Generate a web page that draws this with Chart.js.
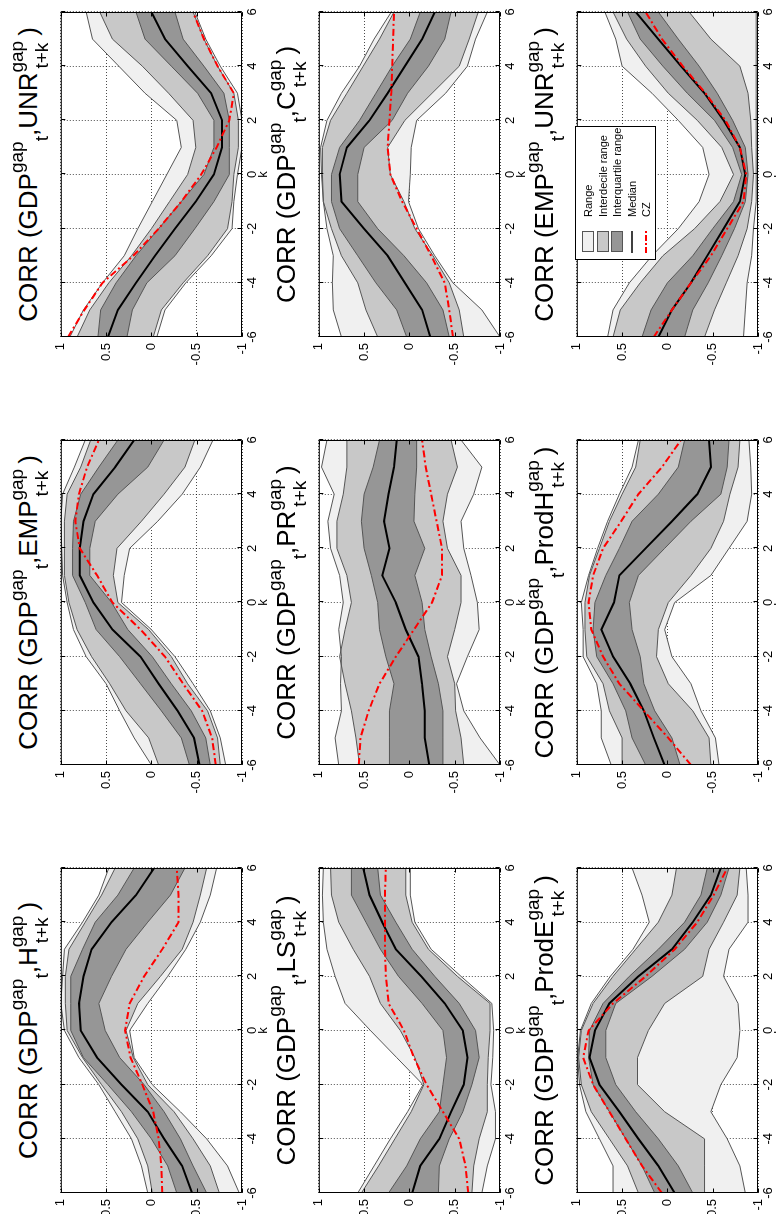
<!DOCTYPE html>
<html>
<head>
<meta charset="utf-8">
<script src="https://cdn.jsdelivr.net/npm/chart.js@4.4.1/dist/chart.umd.min.js"></script>
<style>
html, body { margin: 0; padding: 0; background: #fff; overflow: hidden; width: 776px; height: 1214px; }
#fig {
  position: absolute; left: 0; top: 0; width: 1214px; height: 776px;
  transform-origin: 0 0; transform: translateY(1214px) rotate(-90deg);
  font-family: "Liberation Sans", Arial, sans-serif; background: #fff; color: #000;
}
#fig canvas { position: absolute; }
.ttl { position: absolute; white-space: nowrap; font-size: 26px; line-height: 26px; text-align: center; }
.sp { font-size: 19px; position: relative; top: -14px; }
.sb { font-size: 19px; position: relative; top: 11px; }
.ss { position: relative; display: inline-block; font-size: 19px; line-height: 19px; padding-right: 5px; }
.ss .up { position: relative; top: -14px; }
.ss .dn { position: absolute; left: 4px; top: 11px; }
#legend { position: absolute; border: 1px solid #000; background: #fff; font-size: 11px; }
#legend .row { position: absolute; left: 0; height: 14px; width: 100%; }
#legend .sw { position: absolute; left: 7px; top: 1px; width: 19px; height: 10px; border: 1px solid #555; }
#legend svg { position: absolute; left: 6px; top: 4px; }
#legend .lb { position: absolute; left: 42px; top: 0; line-height: 14px; white-space: nowrap; }
</style>
</head>
<body>
<div id="fig"></div>
<script>
// lags k
const lags = [-6, -5, -4, -3, -2, -1, 0, 1, 2, 3, 4, 5, 6];

// CORR(GDP, H)
const H_max = [0.04, 0.11, 0.22, 0.40, 0.58, 0.80, 0.96, 1.00, 0.98, 0.96, 0.76, 0.58, 0.47];
const H_p90 = [-0.01, 0.04, 0.15, 0.33, 0.55, 0.76, 0.93, 0.95, 0.95, 0.91, 0.73, 0.55, 0.40];
const H_p75 = [-0.28, -0.18, 0.00, 0.22, 0.48, 0.75, 0.89, 0.89, 0.89, 0.76, 0.62, 0.37, 0.19];
const H_med = [-0.45, -0.34, -0.14, 0.04, 0.33, 0.60, 0.78, 0.80, 0.75, 0.66, 0.44, 0.17, -0.03];
const H_p25 = [-0.61, -0.46, -0.32, -0.14, 0.08, 0.35, 0.51, 0.58, 0.44, 0.28, 0.04, -0.21, -0.37];
const H_p10 = [-0.75, -0.65, -0.46, -0.25, 0.04, 0.20, 0.28, 0.15, -0.10, -0.34, -0.46, -0.54, -0.61];
const H_min = [-0.97, -0.84, -0.61, -0.32, -0.01, 0.19, 0.24, 0.04, -0.18, -0.38, -0.54, -0.65, -0.72];
const H_cz = [-0.12, -0.11, -0.08, -0.02, 0.10, 0.23, 0.29, 0.24, 0.08, -0.12, -0.30, -0.30, -0.28];

// CORR(GDP, EMP)
const EMP_max = [0.00, 0.19, 0.35, 0.50, 0.72, 0.86, 0.93, 0.98, 0.99, 1.00, 0.98, 0.85, 0.73];
const EMP_p90 = [-0.08, 0.03, 0.28, 0.46, 0.66, 0.82, 0.91, 0.96, 0.96, 0.96, 0.93, 0.78, 0.67];
const EMP_p75 = [-0.42, -0.33, -0.11, 0.12, 0.35, 0.61, 0.73, 0.87, 0.87, 0.86, 0.78, 0.58, 0.37];
const EMP_med = [-0.53, -0.47, -0.29, -0.08, 0.12, 0.43, 0.64, 0.79, 0.79, 0.75, 0.64, 0.40, 0.19];
const EMP_p25 = [-0.65, -0.60, -0.44, -0.22, -0.01, 0.26, 0.44, 0.68, 0.68, 0.62, 0.37, 0.04, -0.14];
const EMP_p10 = [-0.76, -0.73, -0.62, -0.40, -0.22, 0.03, 0.37, 0.42, 0.38, 0.11, -0.14, -0.37, -0.48];
const EMP_min = [-0.82, -0.76, -0.65, -0.46, -0.26, 0.00, 0.33, 0.30, 0.24, -0.07, -0.34, -0.54, -0.68];
const EMP_cz = [-0.71, -0.67, -0.56, -0.35, -0.15, 0.12, 0.43, 0.60, 0.79, 0.84, 0.80, 0.71, 0.58];

// CORR(GDP, UNR)
const UNR_max = [0.90, 0.75, 0.54, 0.30, 0.15, -0.01, -0.17, -0.33, -0.28, 0.07, 0.36, 0.65, 0.72];
const UNR_p90 = [0.82, 0.68, 0.47, 0.22, 0.00, -0.20, -0.40, -0.49, -0.46, -0.19, 0.10, 0.43, 0.57];
const UNR_p75 = [0.59, 0.56, 0.39, 0.17, -0.08, -0.33, -0.58, -0.69, -0.69, -0.51, -0.22, 0.07, 0.17];
const UNR_med = [0.48, 0.37, 0.17, -0.04, -0.26, -0.49, -0.69, -0.78, -0.78, -0.66, -0.40, -0.15, 0.00];
const UNR_p25 = [0.27, 0.21, 0.05, -0.26, -0.48, -0.69, -0.86, -0.86, -0.86, -0.80, -0.58, -0.35, -0.26];
const UNR_p10 = [-0.02, -0.11, -0.35, -0.62, -0.84, -0.89, -0.91, -0.96, -0.96, -0.91, -0.73, -0.58, -0.46];
const UNR_min = [-0.06, -0.15, -0.38, -0.66, -0.89, -0.91, -0.95, -1.00, -1.00, -0.95, -0.76, -0.60, -0.48];
const UNR_cz = [0.92, 0.74, 0.54, 0.20, -0.08, -0.33, -0.55, -0.72, -0.86, -0.91, -0.73, -0.58, -0.46];

// CORR(GDP, LS)
const LS_max = [0.57, 0.39, 0.21, 0.02, -0.15, 0.14, 0.43, 0.71, 0.82, 0.91, 0.95, 0.96, 0.95];
const LS_p90 = [0.53, 0.34, 0.16, -0.02, -0.16, -0.06, 0.10, 0.32, 0.44, 0.62, 0.78, 0.86, 0.87];
const LS_p75 = [0.23, 0.03, -0.12, -0.33, -0.37, -0.41, -0.37, -0.14, 0.12, 0.32, 0.48, 0.64, 0.64];
const LS_med = [-0.03, -0.12, -0.33, -0.46, -0.60, -0.64, -0.59, -0.39, -0.13, 0.15, 0.30, 0.44, 0.51];
const LS_p25 = [-0.32, -0.33, -0.44, -0.59, -0.69, -0.77, -0.73, -0.55, -0.28, -0.03, 0.15, 0.32, 0.35];
const LS_p10 = [-0.69, -0.71, -0.77, -0.86, -0.86, -0.87, -0.89, -0.89, -0.53, -0.21, -0.03, 0.04, 0.04];
const LS_min = [-0.80, -0.86, -0.95, -0.95, -0.90, -0.92, -0.93, -0.91, -0.57, -0.24, -0.06, -0.01, -0.01];
const LS_cz = [-0.65, -0.62, -0.55, -0.37, -0.19, -0.05, 0.06, 0.23, 0.26, 0.27, 0.27, 0.27, 0.26];

// CORR(GDP, PR)
const PR_max = [0.78, 0.82, 0.75, 0.76, 0.75, 0.78, 0.73, 0.77, 0.87, 0.90, 0.83, 0.97, 0.91];
const PR_p90 = [0.55, 0.59, 0.64, 0.71, 0.77, 0.71, 0.64, 0.69, 0.80, 0.80, 0.73, 0.69, 0.69];
const PR_p75 = [0.22, 0.22, 0.22, 0.17, 0.26, 0.33, 0.35, 0.42, 0.50, 0.53, 0.50, 0.40, 0.33];
const PR_med = [-0.22, -0.17, -0.17, -0.14, -0.10, 0.04, 0.15, 0.30, 0.22, 0.28, 0.23, 0.17, 0.14];
const PR_p25 = [-0.37, -0.37, -0.37, -0.32, -0.24, -0.17, -0.14, -0.06, -0.17, -0.05, -0.06, -0.08, -0.08];
const PR_p10 = [-0.60, -0.57, -0.51, -0.50, -0.42, -0.50, -0.57, -0.57, -0.42, -0.37, -0.42, -0.53, -0.46];
const PR_min = [-1.00, -0.78, -0.60, -0.52, -0.64, -0.77, -0.75, -0.68, -0.60, -0.57, -0.71, -0.80, -0.57];
const PR_cz = [0.56, 0.54, 0.45, 0.33, 0.15, -0.05, -0.25, -0.36, -0.36, -0.30, -0.24, -0.18, -0.14];

// CORR(GDP, C)
const C_max = [0.75, 0.84, 0.85, 0.84, 0.91, 0.95, 0.97, 0.98, 0.91, 0.75, 0.55, 0.39, 0.20];
const C_p90 = [0.35, 0.48, 0.57, 0.75, 0.86, 0.95, 0.96, 0.96, 0.87, 0.69, 0.51, 0.33, 0.17];
const C_p75 = [0.03, 0.14, 0.37, 0.57, 0.77, 0.86, 0.86, 0.77, 0.55, 0.37, 0.19, -0.01, -0.12];
const C_med = [-0.23, -0.14, 0.05, 0.24, 0.50, 0.75, 0.77, 0.69, 0.44, 0.24, 0.05, -0.14, -0.28];
const C_p25 = [-0.44, -0.37, -0.19, 0.06, 0.35, 0.57, 0.57, 0.50, 0.19, 0.02, -0.21, -0.39, -0.46];
const C_p10 = [-0.60, -0.55, -0.44, -0.26, -0.06, 0.06, 0.21, 0.24, 0.05, -0.25, -0.55, -0.66, -0.76];
const C_min = [-1.00, -0.80, -0.48, -0.28, -0.10, 0.01, -0.01, -0.02, -0.08, -0.40, -0.64, -0.73, -0.86];
const C_cz = [-0.48, -0.44, -0.39, -0.24, -0.08, 0.08, 0.21, 0.24, 0.22, 0.20, 0.19, 0.18, 0.17];

// CORR(GDP, ProdE)
const PE_max = [0.60, 0.60, 0.75, 0.90, 0.97, 0.99, 0.96, 0.84, 0.63, 0.38, 0.20, 0.28, 0.39];
const PE_p90 = [0.32, 0.44, 0.64, 0.84, 0.95, 0.98, 0.95, 0.82, 0.60, 0.35, 0.10, -0.05, -0.10];
const PE_p75 = [0.14, 0.28, 0.46, 0.64, 0.82, 0.87, 0.86, 0.71, 0.42, 0.10, -0.19, -0.37, -0.44];
const PE_med = [-0.08, 0.10, 0.32, 0.53, 0.75, 0.86, 0.80, 0.64, 0.32, -0.05, -0.28, -0.48, -0.59];
const PE_p25 = [-0.28, -0.12, 0.10, 0.35, 0.57, 0.68, 0.68, 0.57, 0.17, -0.19, -0.44, -0.59, -0.68];
const PE_p10 = [-0.41, -0.41, -0.41, 0.03, 0.33, 0.33, 0.21, 0.03, -0.39, -0.46, -0.62, -0.77, -0.80];
const PE_min = [-0.86, -0.80, -0.66, -0.48, -0.59, -0.77, -0.80, -0.78, -0.62, -0.68, -0.89, -0.89, -0.87];
const PE_cz = [0.06, 0.28, 0.46, 0.64, 0.82, 0.93, 0.87, 0.60, 0.24, -0.08, -0.33, -0.51, -0.66];

// CORR(GDP, ProdH)
const PH_max = [0.62, 0.73, 0.73, 0.78, 0.93, 0.93, 0.95, 0.87, 0.77, 0.66, 0.53, 0.39, 0.32];
const PH_p90 = [0.50, 0.50, 0.64, 0.71, 0.89, 0.91, 0.91, 0.86, 0.75, 0.64, 0.50, 0.35, 0.30];
const PH_p75 = [0.24, 0.39, 0.46, 0.60, 0.78, 0.82, 0.80, 0.68, 0.53, 0.39, 0.10, -0.12, -0.19];
const PH_med = [0.03, 0.15, 0.26, 0.41, 0.60, 0.73, 0.59, 0.53, 0.24, -0.05, -0.33, -0.48, -0.46];
const PH_p25 = [-0.14, -0.05, 0.14, 0.26, 0.30, 0.39, 0.42, 0.32, 0.03, -0.26, -0.59, -0.66, -0.68];
const PH_p10 = [-0.48, -0.46, -0.28, -0.01, 0.12, 0.10, -0.01, -0.26, -0.48, -0.62, -0.69, -0.78, -0.80];
const PH_min = [-0.57, -0.53, -0.37, -0.26, -0.05, 0.03, -0.08, -0.48, -0.68, -0.88, -0.93, -0.92, -0.90];
const PH_cz = [-0.26, -0.01, 0.26, 0.53, 0.71, 0.84, 0.87, 0.82, 0.71, 0.51, 0.32, 0.06, -0.15];

// CORR(EMP, UNR)
const EU_max = [0.66, 0.60, 0.42, 0.17, -0.12, -0.35, -0.46, -0.39, -0.12, 0.17, 0.50, 0.57, 0.69];
const EU_p90 = [0.60, 0.52, 0.30, 0.05, -0.30, -0.58, -0.73, -0.60, -0.33, -0.01, 0.24, 0.45, 0.60];
const EU_p75 = [0.28, 0.18, 0.00, -0.28, -0.50, -0.73, -0.82, -0.72, -0.52, -0.22, 0.05, 0.30, 0.44];
const EU_med = [0.10, -0.05, -0.26, -0.44, -0.62, -0.80, -0.86, -0.80, -0.62, -0.41, -0.15, 0.10, 0.35];
const EU_p25 = [-0.19, -0.28, -0.45, -0.60, -0.74, -0.86, -0.89, -0.86, -0.72, -0.55, -0.35, -0.12, 0.10];
const EU_p10 = [-0.41, -0.52, -0.65, -0.78, -0.88, -0.93, -0.95, -0.93, -0.92, -0.89, -0.80, -0.48, -0.24];
const EU_min = [-0.84, -0.86, -0.88, -0.93, -0.95, -0.98, -0.98, -0.98, -0.98, -0.98, -0.98, -0.98, -0.98];
const EU_cz = [0.15, -0.05, -0.26, -0.48, -0.66, -0.84, -0.87, -0.80, -0.64, -0.42, -0.17, 0.06, 0.24];

const legendLabels = ['Range', 'Interdecile range', 'Interquartile range', 'Median', 'CZ'];

// Cores das faixas
const RANGE_COL = '#f0f0f0', DECILE_COL = '#c8c8c8', QUART_COL = '#969696';
const EDGE_COL = '#555555';
const FONT = "'Liberation Sans', Arial, sans-serif";

// Posicoes dos eixos (figura nao rodada)
const colLeft = [21, 449, 877];
const rowTop = [57, 315, 573];
const BOX_W = 325, BOX_H = 185;

const panels = [
  { row: 0, col: 0, a: 'GDP', b: 'H', s: [H_max, H_p90, H_p75, H_med, H_p25, H_p10, H_min, H_cz] },
  { row: 0, col: 1, a: 'GDP', b: 'EMP', s: [EMP_max, EMP_p90, EMP_p75, EMP_med, EMP_p25, EMP_p10, EMP_min, EMP_cz] },
  { row: 0, col: 2, a: 'GDP', b: 'UNR', s: [UNR_max, UNR_p90, UNR_p75, UNR_med, UNR_p25, UNR_p10, UNR_min, UNR_cz] },
  { row: 1, col: 0, a: 'GDP', b: 'LS', s: [LS_max, LS_p90, LS_p75, LS_med, LS_p25, LS_p10, LS_min, LS_cz] },
  { row: 1, col: 1, a: 'GDP', b: 'PR', s: [PR_max, PR_p90, PR_p75, PR_med, PR_p25, PR_p10, PR_min, PR_cz] },
  { row: 1, col: 2, a: 'GDP', b: 'C', s: [C_max, C_p90, C_p75, C_med, C_p25, C_p10, C_min, C_cz] },
  { row: 2, col: 0, a: 'GDP', b: 'ProdE', s: [PE_max, PE_p90, PE_p75, PE_med, PE_p25, PE_p10, PE_min, PE_cz] },
  { row: 2, col: 1, a: 'GDP', b: 'ProdH', s: [PH_max, PH_p90, PH_p75, PH_med, PH_p25, PH_p10, PH_min, PH_cz] },
  { row: 2, col: 2, a: 'EMP', b: 'UNR', s: [EU_max, EU_p90, EU_p75, EU_med, EU_p25, EU_p10, EU_min, EU_cz], legend: true }
];

// caixa e ticks para dentro, como no MATLAB
const boxPlugin = {
  id: 'matlabBox',
  afterDatasetsDraw(chart) {
    const { ctx, chartArea: a, scales: { x, y } } = chart;
    const L = a.left + 0.5, R = a.right - 0.5, T = a.top + 0.5, B = a.bottom - 0.5;
    ctx.save();
    ctx.strokeStyle = '#000';
    ctx.lineWidth = 1;
    ctx.setLineDash([]);
    ctx.beginPath();
    x.ticks.forEach(t => {
      const p = Math.round(x.getPixelForValue(t.value)) + 0.5;
      ctx.moveTo(p, B); ctx.lineTo(p, B - 4);
      ctx.moveTo(p, T); ctx.lineTo(p, T + 4);
    });
    y.ticks.forEach(t => {
      const p = Math.round(y.getPixelForValue(t.value)) + 0.5;
      ctx.moveTo(L, p); ctx.lineTo(L + 4, p);
      ctx.moveTo(R, p); ctx.lineTo(R - 4, p);
    });
    ctx.rect(L, T, R - L, B - T);
    ctx.stroke();
    ctx.restore();
  }
};

function pts(arr) {
  return lags.map((k, i) => ({ x: k, y: arr[i] }));
}

function edge(arr, fill, bg, order) {
  return {
    data: pts(arr), borderColor: EDGE_COL, borderWidth: 1, pointRadius: 0,
    tension: 0, fill: fill, backgroundColor: bg, order: order
  };
}

function makeChart(canvas, s) {
  const grid = { color: 'rgba(0,0,0,0.7)', lineWidth: 1, drawTicks: false };
  const tickFont = { family: FONT, size: 13 };
  return new Chart(canvas, {
    type: 'line',
    data: {
      datasets: [
        edge(s[0], '+1', RANGE_COL, 4),
        edge(s[6], false, RANGE_COL, 4),
        edge(s[1], '+1', DECILE_COL, 3),
        edge(s[5], false, DECILE_COL, 3),
        edge(s[2], '+1', QUART_COL, 2),
        edge(s[4], false, QUART_COL, 2),
        { data: pts(s[3]), borderColor: '#000', borderWidth: 2, pointRadius: 0, fill: false, order: 1 },
        { data: pts(s[7]), borderColor: '#ff0000', borderWidth: 2, borderDash: [7, 3, 2, 3], pointRadius: 0, fill: false, order: 0 }
      ]
    },
    options: {
      responsive: false,
      animation: false,
      devicePixelRatio: 1,
      events: [],
      layout: { padding: { left: 0, top: 10, right: 8, bottom: 0 } },
      plugins: {
        legend: { display: false },
        tooltip: { enabled: false },
        filler: { drawTime: 'beforeDatasetsDraw' }
      },
      scales: {
        x: {
          type: 'linear', min: -6, max: 6,
          afterFit: sc => { sc.height = 34; },
          ticks: { stepSize: 2, padding: 3, color: '#000', font: tickFont, maxRotation: 0, callback: v => String(v) },
          grid: grid,
          border: { display: false, dash: [1, 2] },
          title: { display: true, text: 'k', color: '#000', font: tickFont, padding: { top: 0, bottom: 5 } }
        },
        y: {
          type: 'linear', min: -1, max: 1,
          afterFit: sc => { sc.width = 40; },
          ticks: { stepSize: 0.5, padding: 6, color: '#000', font: tickFont, callback: v => String(v) },
          grid: grid,
          border: { display: false, dash: [1, 2] }
        }
      }
    },
    plugins: [boxPlugin]
  });
}

const fig = document.getElementById('fig');

panels.forEach(p => {
  const bx = colLeft[p.col], by = rowTop[p.row];
  const cv = document.createElement('canvas');
  cv.width = BOX_W + 48;
  cv.height = BOX_H + 44;
  cv.style.width = cv.width + 'px';
  cv.style.height = cv.height + 'px';
  cv.style.left = (bx - 40) + 'px';
  cv.style.top = (by - 10) + 'px';
  fig.appendChild(cv);
  makeChart(cv, p.s);

  const t = document.createElement('div');
  t.className = 'ttl';
  t.style.left = bx + 'px';
  t.style.width = BOX_W + 'px';
  t.style.top = (by - 42) + 'px';
  t.innerHTML = 'CORR (' + p.a + '<span class="sp">gap</span><span class="sb">t</span>,' + p.b +
    '<span class="ss"><span class="up">gap</span><span class="dn">t+k</span></span>)';
  fig.appendChild(t);

  if (p.legend) {
    const lg = document.createElement('div');
    lg.id = 'legend';
    lg.style.left = (bx + 77) + 'px';
    lg.style.top = (by + 2) + 'px';
    lg.style.width = '132px';
    lg.style.height = '79px';
    const fills = [RANGE_COL, DECILE_COL, QUART_COL];
    legendLabels.forEach((lab, i) => {
      const row = document.createElement('div');
      row.className = 'row';
      row.style.top = (5 + i * 14.5) + 'px';
      let mark;
      if (i < 3) {
        mark = '<div class="sw" style="background:' + fills[i] + '"></div>';
      } else if (i === 3) {
        mark = '<svg width="22" height="6"><line x1="0" y1="3" x2="22" y2="3" stroke="#000" stroke-width="1.5"/></svg>';
      } else {
        mark = '<svg width="22" height="6"><line x1="0" y1="3" x2="22" y2="3" stroke="#ff0000" stroke-width="2" stroke-dasharray="6 2 2 2"/></svg>';
      }
      row.innerHTML = mark + '<span class="lb">' + lab + '</span>';
      lg.appendChild(row);
    });
    fig.appendChild(lg);
  }
});
</script>
</body>
</html>
